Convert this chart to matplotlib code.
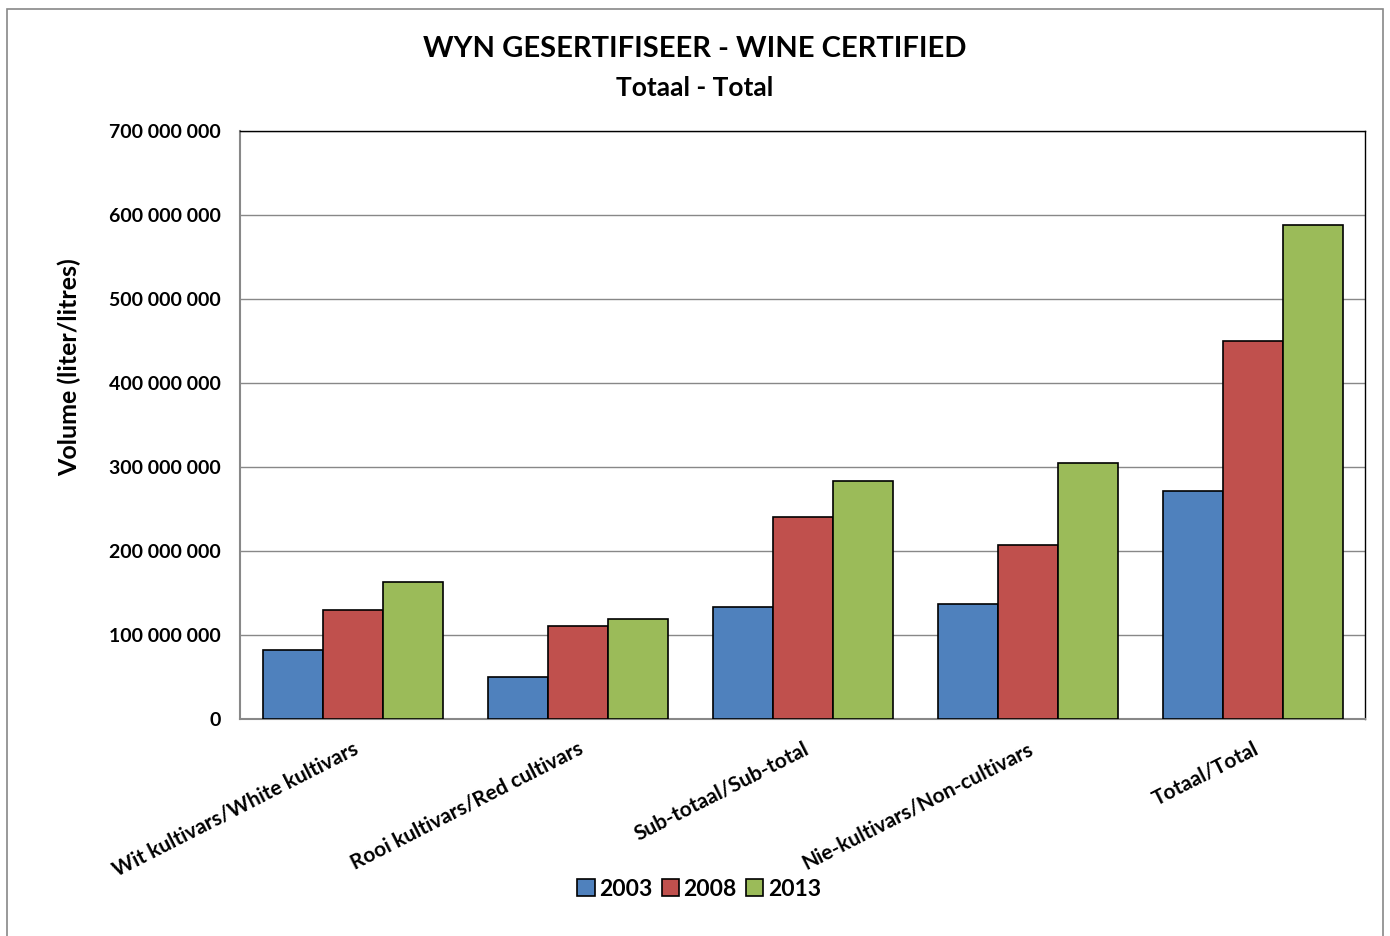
import numpy as np
import matplotlib.pyplot as plt
from matplotlib.ticker import FuncFormatter

plt.rcParams['font.family'] = ['Lato', 'DejaVu Sans']
plt.rcParams['font.weight'] = 'bold'

# data
categories = ['Wit kultivars/White kultivars', 'Rooi kultivars/Red cultivars',
              'Sub-totaal/Sub-total', 'Nie-kultivars/Non-cultivars', 'Totaal/Total']
years = ['2003', '2008', '2013']
v2003 = [82e6, 50e6, 133e6, 137e6, 271e6]
v2008 = [130e6, 111e6, 240e6, 207e6, 450e6]
v2013 = [163e6, 119e6, 283e6, 305e6, 588e6]
colors = ['#4f81bd', '#c0504d', '#9bbb59']

fig = plt.figure(figsize=(13.9, 9.36), dpi=100)
# outer chart border
fig.patches.append(plt.Rectangle((0.005, -0.01), 0.99, 1.0, transform=fig.transFigure,
                                 fill=False, edgecolor='#888888', lw=1.2))
ax = fig.add_axes([0.1727, 0.2318, 0.8094, 0.6282])

x = np.arange(len(categories))
w = 0.8 / 3
for i, (vals, lab) in enumerate(zip([v2003, v2008, v2013], years)):
    ax.bar(x + (i - 1) * w, vals, w, color=colors[i], edgecolor='black', lw=1.2,
           label=lab, zorder=3)

ax.set_xlim(-0.5, len(categories) - 0.5)
ax.set_ylim(0, 700e6)
ax.set_yticks(np.arange(0, 700e6 + 1, 100e6))
ax.yaxis.set_major_formatter(FuncFormatter(lambda v, p: f'{int(v):,}'.replace(',', ' ')))
ax.grid(axis='y', color='#888888', lw=1, zorder=0)
ax.tick_params(axis='y', length=0, labelsize=14, pad=14)
ax.tick_params(axis='x', length=0, labelsize=15, pad=14)
ax.set_xticks(x)
ax.set_xticklabels(categories, rotation=27, ha='right', rotation_mode='anchor')
for s in ['left', 'bottom']:
    ax.spines[s].set_color('#888888')
    ax.spines[s].set_linewidth(1.5)
for s in ['top', 'right']:
    ax.spines[s].set_color('black')
    ax.spines[s].set_linewidth(1)

# y-axis title sits a bit above the axes centre in the original
fig.text(0.050, 0.608, 'Volume (liter/litres)', rotation=90, ha='center', va='center',
         fontsize=18, fontweight='bold')

fig.text(0.5, 0.948, 'WYN GESERTIFISEER - WINE CERTIFIED', ha='center', va='center',
         fontsize=21, fontweight='bold')
fig.text(0.5, 0.906, 'Totaal - Total', ha='center', va='center',
         fontsize=19, fontweight='bold')

fig.legend(loc='center', bbox_to_anchor=(0.503, 0.05), ncol=3, frameon=False,
           fontsize=16.5, handlelength=0.75, handleheight=0.75, handletextpad=0.2,
           columnspacing=0.4)

fig.savefig('out.png', dpi=100)
